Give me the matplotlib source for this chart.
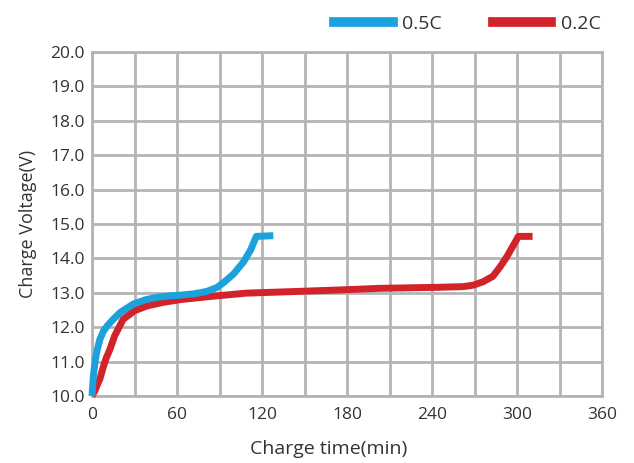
import matplotlib
matplotlib.use("Agg")
import matplotlib.pyplot as plt
from matplotlib.lines import Line2D

# Data
t_05c = [0, 1, 2.5, 4, 5.6, 8, 11, 15, 20, 29, 38, 46, 55, 62, 72, 81, 88, 93, 100, 107, 112, 116, 122, 128]
v_05c = [10.0, 10.6, 11.1, 11.4, 11.65, 11.88, 12.05, 12.23, 12.43, 12.67, 12.8, 12.87, 12.91, 12.93, 12.97, 13.04, 13.15, 13.3, 13.55, 13.9, 14.25, 14.64, 14.65, 14.66]

t_02c = [0, 2, 4, 5.6, 8, 10, 12.7, 16, 22, 30, 39, 50, 62, 85, 109, 145, 180, 203, 245, 262, 269, 276, 283, 288, 293, 297, 301, 306, 311]
v_02c = [10.0, 10.15, 10.35, 10.5, 10.85, 11.1, 11.36, 11.75, 12.23, 12.48, 12.62, 12.72, 12.8, 12.9, 12.99, 13.04, 13.09, 13.13, 13.16, 13.18, 13.22, 13.32, 13.48, 13.75, 14.06, 14.35, 14.64, 14.64, 14.64]

x_ticks = [0, 60, 120, 180, 240, 300, 360]
y_ticks = [10.0, 11.0, 12.0, 13.0, 14.0, 15.0, 16.0, 17.0, 18.0, 19.0, 20.0]
series_labels = ["0.5C", "0.2C"]

blue = "#1ba1db"
red = "#d2232a"
grid_c = "#b4b4b4"
text_c = "#333333"

plt.rcParams['font.family'] = ['Open Sans', 'DejaVu Sans']

fig = plt.figure(figsize=(6.34, 4.63), dpi=100)
ax = fig.add_axes([92/634, 1 - 396/463, 510/634, (396 - 52)/463])

ax.set_xlim(0, 360)
ax.set_ylim(10, 20)
ax.set_xticks(list(range(0, 361, 30)))
ax.set_yticks(y_ticks)
ax.grid(True, color=grid_c, linewidth=2.0, zorder=0)
for s in ax.spines.values():
    s.set_color(grid_c)
    s.set_linewidth(2.0)
ax.tick_params(axis='x', length=0, labelsize=12.5, colors=text_c, pad=8)
ax.tick_params(axis='y', length=0, labelsize=12.5, colors=text_c, pad=5)
ax.set_xticklabels([str(v) if v in x_ticks else "" for v in range(0, 361, 30)])
ax.set_yticklabels([f"{v:.1f}" for v in y_ticks])

ax.plot(t_02c, v_02c, color=red, linewidth=5, solid_joinstyle='round',
        solid_capstyle='butt', zorder=3, clip_on=False)
ax.plot(t_05c, v_05c, color=blue, linewidth=5, solid_joinstyle='round',
        solid_capstyle='butt', zorder=4, clip_on=False)

ax.set_xlabel("Charge time(min)", fontsize=14, color=text_c)
ax.xaxis.set_label_coords(0.463, -0.128)
ax.set_ylabel("Charge Voltage(V)", fontsize=13, color=text_c, labelpad=10)

handles = [Line2D([0], [0], color=blue, linewidth=7),
           Line2D([0], [0], color=red, linewidth=7)]
fig.legend(handles, series_labels, loc='upper right', bbox_to_anchor=(618/634, 1.005),
           ncol=2, frameon=False, fontsize=14, handlelength=3.0, columnspacing=2.6,
           handletextpad=0.5, labelcolor=text_c)

fig.savefig("out.png", dpi=100, facecolor="white")
